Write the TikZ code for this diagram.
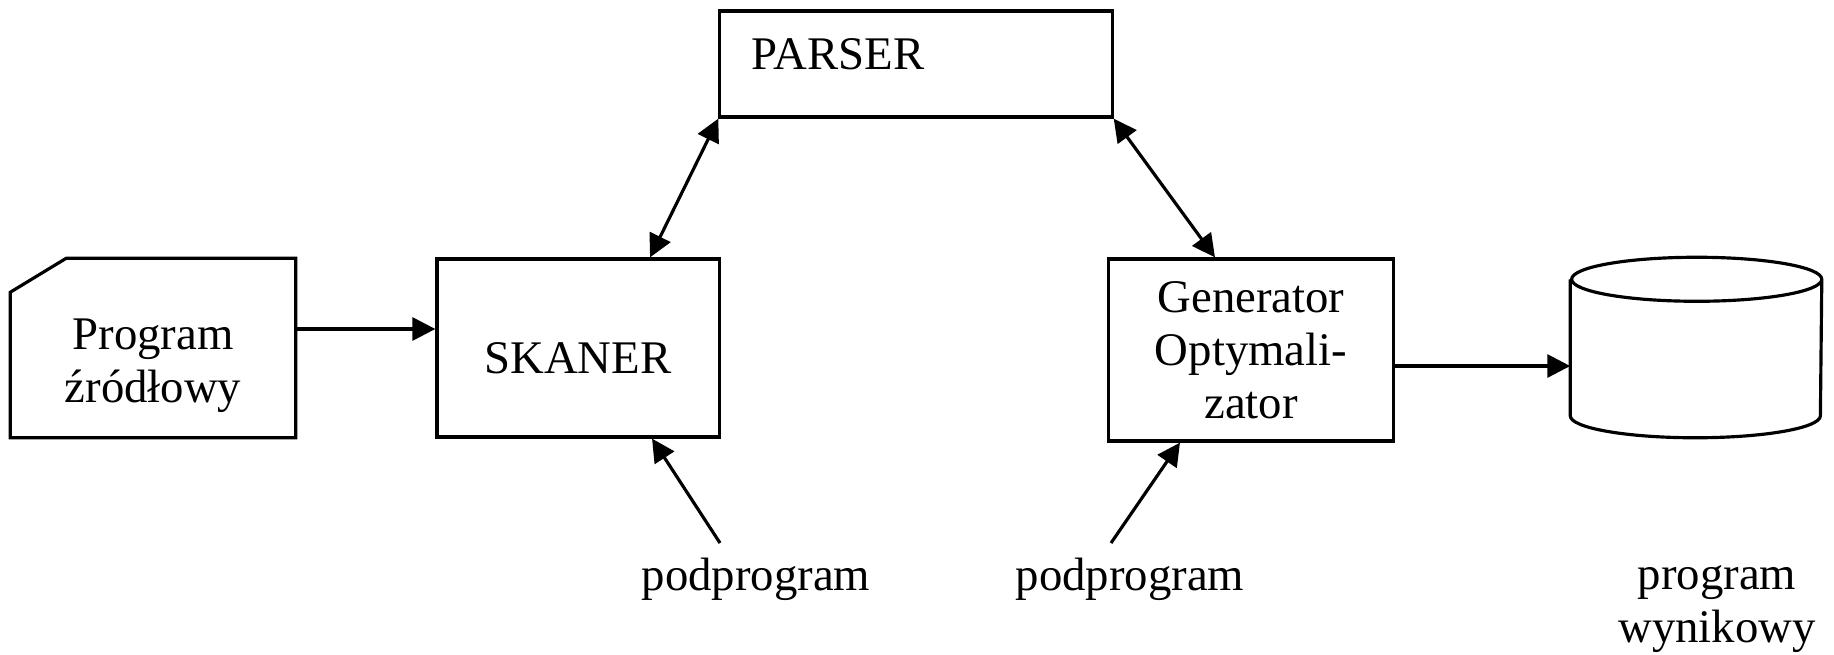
\documentclass[tikz,border=0pt]{standalone}
\usepackage{fontspec}
\setmainfont{Liberation Serif}
\usetikzlibrary{arrows.meta, positioning}

\begin{document}
\begin{tikzpicture}[
    x=0.01cm, y=-0.01cm,
    font=\fontsize{13.3}{15}\selectfont,
    box/.style={rectangle, draw, line width=0.9pt, align=center, inner sep=0pt},
    arrow/.style={-{Triangle[length=6.5pt,width=6.5pt]}, line width=0.9pt},
    biarrow/.style={{Triangle[length=6.5pt,width=6.5pt]}-{Triangle[length=6.5pt,width=6.5pt]}, line width=0.9pt}
]
\useasboundingbox (0,0) rectangle (1834,654);

% Source program (card with cut corner)
\node[minimum width=2.84cm, minimum height=1.78cm, align=center, inner sep=0pt, text height=1.08cm, text depth=0pt] (zrodlo) at (153,348) {Program\\źródłowy};
\draw[line width=0.9pt] ([yshift=-0.34cm]zrodlo.north west) -- ([xshift=0.56cm]zrodlo.north west) -- (zrodlo.north east) -- (zrodlo.south east) -- (zrodlo.south west) -- cycle;

% Scanner
\node[box, minimum width=2.82cm, minimum height=1.78cm, text height=0.5cm, text depth=0pt] (skaner) at (578,348) {SKANER};

% Parser
\node[box, minimum width=3.92cm, minimum height=1.06cm, inner xsep=0.32cm, text width=3.28cm, align=left, text depth=0.2cm] (parser) at (916,64) {PARSER};

% Generator / optimizer
\node[box, minimum width=2.85cm, minimum height=1.82cm, text depth=0pt] (gen) at (1251,350) {Generator\\Optymali-\\zator};

% Output program (cylinder)
\node[minimum width=2.5cm, minimum height=1.79cm, inner sep=0pt] (wynik) at (1696,347.5) {};
\draw[line width=0.9pt] ([yshift=-0.22cm]wynik.north west) -- ([yshift=0.22cm]wynik.south west)
    arc[start angle=180, end angle=360, x radius=1.25cm, y radius=0.22cm]
    -- ([yshift=-0.22cm]wynik.north east)
    arc[start angle=0, end angle=360, x radius=1.25cm, y radius=0.22cm];

% Labels
\node[anchor=base] (pod1) at (756,590) {podprogram};
\node[anchor=base] (pod2) at (1130,590) {podprogram};
\node[anchor=base, align=center] (wyjscie) at (1717,642) {program\\wynikowy};

\coordinate (p1) at (720,543);
\coordinate (p2) at (1111,543);

% Arrows
\draw[arrow] ([yshift=0.19cm]zrodlo.east) -- ([yshift=0.19cm]skaner.west);
\draw[biarrow] ([xshift=0.72cm]skaner.north) -- (parser.south west);
\draw[biarrow] (parser.south east) -- ([xshift=-0.36cm]gen.north);
\draw[arrow] ([yshift=-0.16cm]gen.east) -- ([yshift=-0.16cm]gen.east -| wynik.west);
\draw[arrow] (p1) -- ([xshift=0.74cm]skaner.south);
\draw[arrow] (p2) -- ([xshift=-0.71cm]gen.south);

\end{tikzpicture}
\end{document}
